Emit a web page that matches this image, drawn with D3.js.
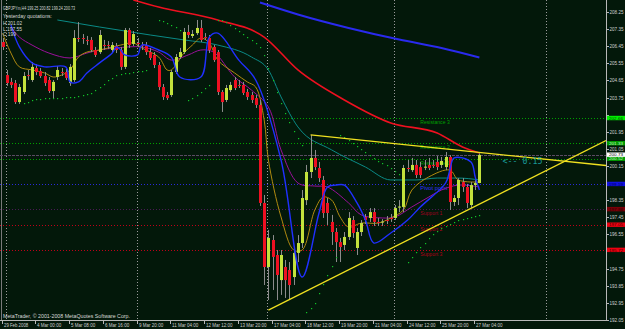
<!DOCTYPE html>
<html><head><meta charset="utf-8">
<script src="https://cdn.jsdelivr.net/npm/d3@7"></script>
<style>html,body{margin:0;padding:0;background:#03180a;overflow:hidden}svg{display:block}</style>
</head><body>
<svg id="c" width="625" height="329"></svg>
<script>
// ---------- DATA ----------
const symbol = "GBPJPYm,H4";
const opens = [206.67,204.93,204.57,204.51,203.51,204.04,204.93,204.67,205.30,205.14,
204.88,204.67,204.09,204.83,205.09,205.09,204.51,204.67,206.88,206.88,
206.78,206.78,206.25,206.14,206.51,206.51,206.25,206.46,206.25,205.36,
207.30,206.57,206.62,206.51,206.51,206.14,205.99,205.46,204.30,203.88,
203.88,205.09,205.88,206.14,207.20,206.99,207.14,207.41,206.93,206.88,
206.41,206.14,204.04,203.62,204.14,204.67,204.41,204.41,204.04,203.88,
203.72,203.36,198.20,194.83,196.25,195.46,194.14,194.83,194.67,194.30,
195.57,196.09,198.35,199.83,200.57,200.04,199.41,198.20,197.20,196.67,
196.14,195.99,196.41,197.30,195.83,196.67,197.46,197.41,197.72,197.20,
197.20,197.30,197.41,197.41,197.99,197.99,200.04,199.93,200.20,200.09,
200.09,200.20,200.20,200.36,200.20,200.09,200.62,198.25,198.46,199.30,
199.04,198.09,199.14,199.25];
const highs = [206.88,205.20,204.78,204.67,204.46,205.09,205.20,205.62,205.51,205.30,
205.09,204.83,204.67,205.41,205.30,205.25,205.51,207.30,207.72,207.09,
206.99,206.93,206.41,207.30,206.78,206.72,206.67,206.62,206.41,207.41,
207.41,207.25,206.88,206.67,206.67,206.36,206.14,205.62,204.46,204.04,
205.20,206.04,206.36,207.41,207.57,207.30,207.83,207.83,207.14,207.04,
206.51,206.25,204.14,204.41,204.57,204.83,204.67,204.57,204.20,204.04,
203.88,203.62,198.62,196.78,196.51,195.72,195.72,195.20,195.09,195.72,
196.51,198.88,200.20,201.78,200.99,200.36,199.62,198.46,197.57,196.88,
196.36,196.67,197.72,197.51,196.88,197.30,197.62,197.93,197.93,197.41,
197.35,197.51,197.62,198.09,198.35,200.20,200.46,200.57,200.46,200.36,
200.46,200.57,200.46,200.67,200.62,200.88,200.72,198.62,199.51,199.51,
199.20,199.30,199.41,200.82];
const lows = [206.25,204.36,204.25,203.41,203.41,203.93,204.67,204.57,204.93,204.78,
204.36,203.99,203.72,204.67,204.88,204.67,204.36,204.57,206.67,206.57,
206.51,206.14,205.88,206.04,206.25,206.30,206.14,206.09,205.20,205.25,
206.36,206.46,206.41,206.25,205.99,205.72,205.30,204.14,203.62,203.62,
203.78,204.99,205.78,206.04,206.88,206.88,207.04,206.67,206.78,206.09,
205.62,203.88,202.99,203.51,204.04,204.14,204.25,203.88,203.62,203.46,
203.20,198.04,193.88,193.09,193.62,193.09,193.36,193.20,193.09,193.88,
195.09,195.83,198.09,199.51,199.93,199.30,197.41,197.04,195.99,195.09,
195.09,195.72,196.25,196.36,195.46,196.46,197.09,197.20,196.99,196.99,
196.99,197.09,197.20,197.30,197.72,197.72,199.83,199.83,199.51,199.51,
199.93,199.93,200.04,199.93,200.04,199.93,197.83,198.04,198.09,198.78,
197.93,197.93,198.88,199.24];
const closes = [206.41,204.51,204.41,203.51,204.30,204.88,204.88,205.36,205.09,204.88,
204.51,204.09,204.57,205.20,205.04,204.78,205.36,206.88,206.83,206.86,
206.72,206.25,205.99,207.04,206.46,206.49,206.51,206.25,205.36,207.30,
206.51,207.09,206.60,206.46,206.14,205.83,205.46,204.30,203.78,203.72,
205.09,205.88,206.14,207.20,207.04,207.09,207.41,206.78,206.91,206.25,
205.72,204.04,203.51,204.25,204.41,204.25,204.39,203.99,203.78,203.62,
203.36,198.20,194.83,196.36,195.36,194.41,195.46,194.14,193.88,195.57,
196.09,198.46,199.83,200.57,200.09,199.51,197.67,197.67,196.67,196.14,
195.88,196.41,197.41,196.62,196.67,197.14,197.30,197.72,197.20,197.14,
197.22,197.25,197.35,197.93,198.01,200.04,199.99,200.20,199.67,199.67,
200.11,200.04,200.18,200.09,200.41,200.62,198.25,198.46,199.41,199.04,
198.20,199.14,199.25,200.73];

// indicator readings: [bar index, price]
const maRed = [[31,208.88],[37,208.51],[51,207.83],[62,206.93],[70,205.2],[81,203.62],[92,202.41],[103,201.88],[109,201.15],[113,200.83]];
const maBlueSlow = [[61,208.75],[70,208.12],[82,207.41],[94,206.80],[104,206.36],[113,205.86]];
const maTeal = [[13,207.83],[23,207.46],[35,207.04],[43,206.78],[51,206.51],[59,205.88],[63,205.2],[66,203.78],[70,202.2],[78,200.99],[86,200.09],[92,199.41],[98,199.41],[103,199.51],[108,199.51],[113,199.41]];
const maPurple = [[2,207.46],[4,206.93],[7,206.51],[11,206.09],[16,205.83],[20,206.09],[23,206.25],[27,206.36],[33,206.41],[37,206.14],[40,205.72],[44,205.99],[47,206.25],[50,206.14],[55,204.83],[59,204.14],[63,203.25],[66,200.99],[70,199.25],[74,199.09],[77,199.04],[82,198.2],[85,197.57],[90,197.41],[93,197.46],[97,197.99],[101,198.51],[104,198.88],[108,199.14],[113,199.04]];
const maOlive = [[0,207.14],[2,206.09],[4,205.36],[7,205.2],[10,205.04],[12,204.83],[14,204.93],[16,205.2],[18,205.88],[20,206.14],[23,206.25],[26,206.41],[28,206.51],[31,206.62],[33,206.36],[37,205.88],[39,205.2],[40,205.2],[43,206.09],[45,206.51],[47,206.88],[49,206.62],[51,205.72],[55,205.04],[58,204.57],[60,204.3],[62,202.57],[63,200.46],[66,197.46],[69,195.72],[71,195.72],[74,197.83],[76,198.51],[78,198.35],[80,197.46],[82,196.93],[85,197.14],[89,197.14],[92,197.41],[95,197.83],[97,198.88],[101,199.57],[106,199.93],[108,199.41],[113,199.30]];
const maBlue = [[2,207.57],[4,206.41],[7,205.57],[10,205.36],[15,205.36],[16,204.57],[18,204.57],[20,205.04],[23,205.57],[26,206.09],[27,206.41],[28,206.25],[29,205.99],[32,205.99],[33,206.51],[37,206.25],[40,205.88],[42,204.83],[47,204.83],[49,206.93],[51,207.14],[56,205.72],[60,204.67],[66,200.46],[71,194.3],[75,197.67],[77,199.04],[79,199.14],[81,199.14],[84,198.2],[86,197.3],[88,196.09],[92,196.62],[96,197.3],[99,197.99],[105,199.25],[106,199.93],[107,200.57],[111,200.36],[112,199.57],[113,198.88]];
const sar = [[5,203.46],[6,203.51],[7,203.62],[8,203.65],[9,203.67],[10,203.70],[11,203.72],[12,203.72],[13,203.75],[14,203.75],[15,203.76],[16,203.78],[17,203.78],[18,203.83],[19,203.88],[20,203.93],[21,203.99],[22,204.14],[23,204.30],[24,204.46],[25,204.67],[26,204.78],[27,204.93],[28,204.99],[29,205.04],[30,205.04],[31,205.09],[32,205.14],[33,205.14],[34,205.20],
 [37,207.83],[38,207.78],[39,207.67],[40,207.57],[41,207.46],[42,207.30],
 [44,203.62],[45,203.72],[46,203.88],[47,204.04],[48,204.25],[49,204.41],
 [51,207.83],[52,207.83],[53,207.72],[54,207.57],[55,207.41],[56,207.25],[57,207.09],[58,206.93],[59,206.78],[60,206.62],[61,206.41],[62,205.99],[63,205.30],[64,204.67],[65,204.04],[66,203.46],[67,202.93],[68,202.46],[69,201.99],[70,201.62],[71,201.25],
 [72,192.46],[73,192.67],[74,192.93],[75,193.46],[76,193.93],[77,194.41],[78,194.88],[79,195.36],
 [80,201.78],[81,201.67],[82,201.51],[83,201.36],[84,201.20],[85,201.04],[86,200.88],[87,200.72],[88,200.57],[89,200.41],[90,200.30],[91,200.20],[92,200.04],[93,199.88],[94,199.72],
 [96,195.09],[97,195.36],[98,195.62],[99,195.88],[100,196.09],[101,196.36],[102,196.57],[103,196.72],[104,196.88],[105,196.99],[106,197.09],[107,197.20],[108,197.30],[109,197.35],[110,197.41],[111,197.46],[112,197.51],[113,197.57]];
const dateTicks = [[0,"29 Feb 2008"],[8,"4 Mar 00:00"],[16,"5 Mar 08:00"],[24,"6 Mar 16:00"],[32,"9 Mar 20:00"],[40,"11 Mar 04:00"],[48,"12 Mar 12:00"],[56,"13 Mar 20:00"],[64,"17 Mar 04:00"],[72,"18 Mar 12:00"],[80,"19 Mar 20:00"],[88,"21 Mar 04:00"],[96,"24 Mar 12:00"],[104,"25 Mar 20:00"],[112,"27 Mar 04:00"]];
const priceTicks = [208.25,207.35,206.45,205.55,204.65,203.75,202.85,201.95,201.05,200.15,199.25,198.35,197.45,196.55,195.65,194.75,193.85,192.95,192.05];
const weekSeparators = [1,32,63,93,129];
const yesterday = {H:201.02, L:197.55, C:199};
const levelNames = ["Resistance 3","Resistance 2","Resistance 1","Pivot point","Support 1","Support 2","Support 3"];
const levelFactors = [1.0,0.618,0.382,0,-0.382,-0.618,-1.0];
const trendUpper = [[73,201.78],[113,200.86]];
const trendLower = [[63,192.56],[113,198.14]];
const spreadText = "<-- 0.15";

// ---------- SETUP ----------
const W=625,H=329, plotR=606, plotB=320;
const svg=d3.select("#c");
const x=d3.scaleLinear().domain([0,113]).range([2.5,479.4]);
const y=d3.scaleLinear().domain([192.05,208.25]).range([319.8,12]);
const font="'Liberation Sans', Arial, sans-serif";

svg.append("rect").attr("width",W).attr("height",H).attr("fill","#03180a");
svg.append("clipPath").attr("id","clip").append("rect").attr("x",0).attr("y",0).attr("width",plotR).attr("height",plotB);
const g=svg.append("g").attr("clip-path","url(#clip)");

// pivot levels (Fibonacci)
const P=(yesterday.H+yesterday.L+yesterday.C)/3, R=yesterday.H-yesterday.L;
const levels=levelFactors.map((f,k)=>({name:levelNames[k],v:P+f*R}));
const levelLine=["#00a000","#00a000","#00a000","#2a2ad8","#4a1a55","#c00018","#c00018"];
const levelText=["#00a000","#00a000","#00a000","#3030ff","#a00020","#b00018","#b00018"];
const levelBox=["#00ee00","#009a00","#009a00","#1010e0","#7a0008","#ee0010","#ee0010"];
const levelBoxText=["#004000","#c8ffc8","#c8ffc8","#000060","#300000","#400000","#400000"];

// left border + week separators
g.append("line").attr("x1",1.5).attr("x2",1.5).attr("y1",0).attr("y2",plotB).attr("stroke","#7a7a7a");
g.selectAll(".sep").data(weekSeparators).join("line")
 .attr("x1",d=>Math.round(x(d))-0.5).attr("x2",d=>Math.round(x(d))-0.5).attr("y1",0).attr("y2",plotB)
 .attr("stroke","#9a9a9a").attr("stroke-width",1).attr("stroke-dasharray","1,2");

levels.forEach((L,k)=>{
  const yy=Math.round(y(L.v))+0.5;
  g.append("line").attr("x1",0).attr("x2",plotR).attr("y1",yy).attr("y2",yy)
   .attr("stroke",levelLine[k]).attr("stroke-dasharray","1,2");
});
// bid line
const bid=closes[closes.length-1];
g.append("line").attr("x1",0).attr("x2",plotR).attr("y1",Math.round(y(bid))+0.5).attr("y2",Math.round(y(bid))+0.5)
 .attr("stroke","#5a4a62").attr("stroke-width",1.2).attr("stroke-dasharray","3,1");

// level texts
levels.forEach((L,k)=>{
  g.append("text").attr("x",x(99)).attr("y",y(L.v)+6).attr("fill",levelText[k])
   .attr("font-family",font).attr("font-size",5.6).attr("textLength",L.name.length*2.45).attr("lengthAdjust","spacingAndGlyphs").text(L.name);
});

// MAs
const line=d3.line().x(d=>x(d[0])).y(d=>y(d[1])).curve(d3.curveMonotoneX);
const lineC=d3.line().x(d=>x(d[0])).y(d=>y(d[1])).curve(d3.curveCatmullRom.alpha(0.5));
g.append("path").attr("d",line(maTeal)).attr("fill","none").attr("stroke","#0a8a86").attr("stroke-width",1);
g.append("path").attr("d",lineC(maPurple)).attr("fill","none").attr("stroke","#9a109a").attr("stroke-width",1);
g.append("path").attr("d",lineC(maOlive)).attr("fill","none").attr("stroke","#b08a10").attr("stroke-width",1);

// candles
const idx=d3.range(opens.length);
g.selectAll(".wick").data(idx).join("line")
 .attr("x1",i=>Math.round(x(i))+0.5).attr("x2",i=>Math.round(x(i))+0.5)
 .attr("y1",i=>y(highs[i])).attr("y2",i=>y(lows[i]))
 .attr("stroke","#8c8c8c").attr("stroke-width",1);
g.selectAll(".body").data(idx).join("rect")
 .attr("x",i=>Math.round(x(i))-1).attr("width",3)
 .attr("y",i=>Math.min(y(opens[i]),y(closes[i])))
 .attr("height",i=>Math.max(1,Math.abs(y(opens[i])-y(closes[i]))))
 .attr("fill",i=>closes[i]>=opens[i]?"#c3e23c":"#ee1022");

g.append("path").attr("d",lineC(maBlue)).attr("fill","none").attr("stroke","#2030ff").attr("stroke-width",1.4);
g.append("path").attr("d",line(maRed)).attr("fill","none").attr("stroke","#ee1020").attr("stroke-width",1.6);
g.append("path").attr("d",line(maBlueSlow)).attr("fill","none").attr("stroke","#2a2aee").attr("stroke-width",2);

// SAR
g.selectAll(".sar").data(sar).join("rect")
 .attr("x",d=>Math.round(x(d[0]))).attr("y",d=>Math.round(y(d[1]))).attr("width",1.2).attr("height",1.2).attr("fill","#12c428");

// trend lines (rays)
function ray(t){
  const x0=x(t[0][0]),y0=y(t[0][1]),x1=x(t[1][0]),y1=y(t[1][1]);
  const s=(y1-y0)/(x1-x0);
  return [x0,y0,plotR,y0+s*(plotR-x0)];
}
[trendUpper,trendLower].forEach(t=>{
  const r=ray(t);
  g.append("line").attr("x1",r[0]).attr("y1",r[1]).attr("x2",r[2]).attr("y2",r[3]).attr("stroke","#f0e020").attr("stroke-width",1.3);
});

g.append("text").attr("x",x(118.5)).attr("y",y(bid)+9).attr("fill","#1a9a9a")
 .attr("font-family","'DejaVu Sans Mono', monospace").attr("font-size",9.5).attr("textLength",40).attr("lengthAdjust","spacingAndGlyphs").text(spreadText);

// top-left texts
const o=opens[opens.length-1],h=highs[highs.length-1],l=lows[lows.length-1];
const tl=[[`${symbol} ${o.toFixed(2)} ${h.toFixed(2)} ${l.toFixed(2)} ${bid.toFixed(2)}`,3,9.5,72],
 ["Yesterday quotations:",3,17.5,49],
 [`H ${yesterday.H.toFixed(2)}`,3,24.5,19],
 [`L ${yesterday.L.toFixed(2)}`,3,30.5,19],
 [`C ${yesterday.C}`,3,36,13]];
tl.forEach(t=>svg.append("text").attr("x",t[1]).attr("y",t[2]).attr("fill","#d8d8d8").attr("font-family",font)
  .attr("font-size",5.6).attr("textLength",t[3]).attr("lengthAdjust","spacingAndGlyphs").text(t[0]));
svg.append("text").attr("x",3).attr("y",317.5).attr("fill","#d8d8d8").attr("font-family",font).attr("font-size",5.6)
 .attr("textLength",127).attr("lengthAdjust","spacingAndGlyphs").text("MetaTrader, © 2001-2008 MetaQuotes Software Corp.");

// axes frame
svg.append("line").attr("x1",plotR+0.5).attr("x2",plotR+0.5).attr("y1",0).attr("y2",plotB+1).attr("stroke","#b8b8b8");
svg.append("line").attr("x1",0).attr("x2",plotR+1).attr("y1",plotB+0.5).attr("y2",plotB+0.5).attr("stroke","#b8b8b8");

// price labels (boxes) positions first, to skip tick labels hidden behind them
const boxes=levels.map((L,k)=>({v:L.v,fill:levelBox[k],tc:levelBoxText[k]}));
boxes.push({v:bid,fill:"#ffffff",tc:"#000000"});

// price ticks
priceTicks.forEach(p=>{
  const yy=Math.round(y(p))+0.5;
  svg.append("line").attr("x1",plotR).attr("x2",plotR+3).attr("y1",yy).attr("y2",yy).attr("stroke","#b8b8b8");
  const hidden=boxes.some(b=>Math.abs(y(b.v)-yy)<3.2);
  if(!hidden) svg.append("text").attr("x",plotR+3.5).attr("y",yy+1.2).attr("fill","#d0d0d0").attr("font-family",font)
   .attr("font-size",4.6).attr("textLength",14).attr("lengthAdjust","spacingAndGlyphs").text(p.toFixed(2));
});
// date ticks
dateTicks.forEach(d=>{
  const xx=Math.round(x(d[0]))-0.5;
  svg.append("line").attr("x1",xx).attr("x2",xx).attr("y1",plotB).attr("y2",plotB+4).attr("stroke","#b8b8b8");
  svg.append("text").attr("x",xx+1.5).attr("y",326.5).attr("fill","#d0d0d0").attr("font-family",font)
   .attr("font-size",5.4).attr("textLength",d[1].length*2.2).attr("lengthAdjust","spacingAndGlyphs").text(d[1]);
});

boxes.forEach(b=>{
  const yy=y(b.v);
  svg.append("rect").attr("x",plotR+1).attr("y",yy-2.4).attr("width",18).attr("height",4.4).attr("fill",b.fill);
  svg.append("text").attr("x",plotR+3).attr("y",yy+1.5).attr("fill",b.tc).attr("font-family",font)
   .attr("font-size",4.3).attr("textLength",14).attr("lengthAdjust","spacingAndGlyphs").text(b.v.toFixed(2));
});
</script>
</body></html>
